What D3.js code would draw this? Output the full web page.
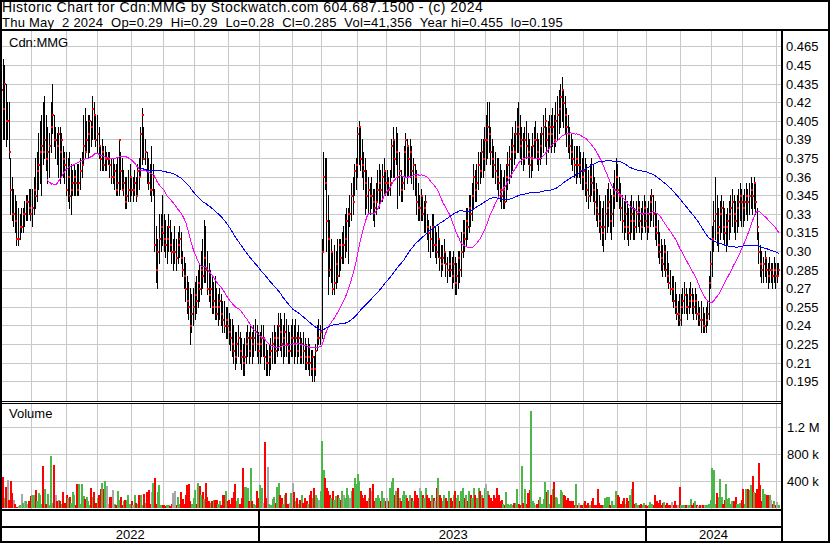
<!DOCTYPE html>
<html>
<head>
<meta charset="utf-8">
<script src="https://cdn.jsdelivr.net/npm/d3@7"></script>
<style>
body { margin: 0; background: #fff; }
svg { display: block; }
text { font-family: "Liberation Sans", Arial, sans-serif; fill: #000; }
</style>
</head>
<body>
<svg id="chart"></svg>
<script>
// TSX holidays in the window (no trading)
const holidays = ["2022-05-23","2022-07-01","2022-08-01","2022-09-05","2022-10-10","2022-12-26","2022-12-27",
    "2023-01-02","2023-02-20","2023-04-07","2023-05-22","2023-07-03","2023-08-07","2023-09-04","2023-10-09",
    "2023-12-25","2023-12-26","2024-01-01","2024-02-19","2024-03-29"];

// daily bars, May 3 2022 .. May 2 2024 (one line per month)
const highs = [
.45,.455,.45,.435,.42,.42,.375,.36,.35,.345,.34,.335,.33,.335,.335,.34,.345,.345,.35,.35,
.35,.36,.375,.38,.395,.405,.41,.42,.425,.41,.40,.395,.42,.435,.41,.40,.395,.40,.40,.395,.385,.38,
.38,.375,.38,.37,.365,.37,.365,.37,.37,.375,.38,.41,.415,.405,.41,.41,.405,.425,.42,.41,
.41,.40,.385,.39,.385,.385,.38,.38,.38,.375,.375,.37,.37,.375,.39,.38,.375,.365,.36,.36,.365,.37,
.36,.36,.365,.36,.37,.375,.40,.415,.40,.39,.38,.375,.37,.385,.37,.35,.32,.31,.33,.33,.345,
.33,.325,.32,.33,.325,.315,.31,.32,.31,.315,.32,.315,.30,.295,.29,.28,.275,.27,.265,.27,
.275,.28,.285,.29,.30,.31,.325,.32,.30,.29,.285,.28,.275,.28,.27,.265,.27,.265,.26,.26,.255,.255,
.25,.245,.245,.24,.235,.235,.24,.235,.23,.225,.23,.235,.24,.235,.24,.235,.24,.245,.24,.235,
.235,.24,.24,.23,.225,.22,.225,.23,.235,.24,.235,.24,.25,.25,.245,.24,.25,.245,.24,.235,.24,
.245,.24,.245,.235,.24,.235,.23,.235,.23,.225,.23,.225,.22,.22,.215,.225,.24,.245,.24,
.31,.38,.375,.375,.345,.325,.31,.30,.305,.30,.31,.31,.31,.315,.32,.33,.335,.335,.345,.355,.36,.37,.375,
.40,.405,.40,.39,.38,.375,.365,.36,.355,.36,.35,.35,.355,.365,.37,.365,.37,.375,.365,
.365,.36,.365,.39,.40,.39,.40,.395,.38,.365,.36,.385,.395,.39,.385,.39,.385,.375,.37,.365,.355,.345,
.35,.345,.34,.345,.33,.325,.32,.33,.33,.32,.315,.32,.31,.305,.305,.31,.30,.295,.30,.30,.295,.30,
.295,.29,.30,.30,.315,.325,.325,.335,.335,.345,.345,.355,.37,.365,.37,.38,.38,.39,.39,.40,
.41,.42,.42,.40,.39,.385,.38,.375,.375,.37,.365,.36,.365,.37,.38,.385,.39,.40,.395,.405,.415,.42,
.41,.40,.395,.40,.405,.395,.39,.385,.395,.40,.405,.395,.39,.395,.40,.41,.415,.40,.405,.41,
.41,.415,.41,.42,.425,.43,.435,.44,.43,.425,.415,.41,.40,.395,.39,.385,.385,.385,.385,.38,.375,
.38,.375,.37,.365,.37,.375,.37,.36,.355,.35,.345,.34,.335,.34,.345,.35,.355,.35,.345,.355,.365,.375,
.37,.36,.355,.345,.34,.345,.34,.335,.34,.345,.34,.335,.34,.345,.34,.335,.34,.345,.34,
.335,.34,.345,.35,.345,.34,.33,.325,.315,.31,.305,.31,.305,.30,.29,.285,.28,.28,.275,.265,.26,.265,
.265,.27,.275,.27,.265,.27,.275,.27,.265,.27,.265,.26,.255,.26,.255,.25,.255,.26,.28,.30,
.32,.34,.36,.345,.335,.34,.345,.34,.335,.33,.335,.34,.345,.35,.345,.34,.345,.35,.355,.35,
.345,.35,.355,.35,.355,.36,.355,.36,.355,.335,.315,.305,.30,.295,.30,.295,.29,.295,.29,.29,.295,.29,
.29,.29
];
const lows = [
.395,.39,.39,.385,.39,.375,.33,.325,.32,.315,.305,.305,.31,.315,.315,.32,.325,.325,.33,.325,
.32,.33,.335,.34,.35,.355,.345,.37,.375,.365,.355,.36,.38,.395,.385,.375,.37,.36,.355,.36,.36,.355,
.345,.34,.335,.33,.345,.345,.345,.345,.345,.35,.36,.37,.375,.38,.375,.38,.385,.39,.39,.385,
.38,.375,.365,.365,.365,.365,.365,.37,.36,.355,.355,.35,.345,.345,.345,.35,.35,.345,.335,.335,.34,.34,
.345,.34,.345,.34,.345,.35,.36,.37,.375,.37,.355,.35,.345,.34,.345,.30,.275,.27,.29,.30,.305,
.30,.295,.29,.30,.30,.29,.285,.29,.285,.29,.295,.29,.28,.27,.26,.25,.245,.225,.235,.24,
.245,.25,.255,.26,.265,.27,.275,.275,.265,.26,.255,.25,.25,.245,.245,.24,.245,.24,.235,.235,.23,.23,
.225,.22,.215,.21,.205,.21,.215,.21,.205,.20,.20,.21,.215,.21,.215,.21,.215,.22,.215,.21,
.21,.215,.215,.205,.20,.20,.20,.205,.21,.21,.21,.215,.22,.22,.215,.21,.215,.215,.21,.21,.215,
.215,.21,.215,.21,.215,.21,.21,.21,.205,.205,.205,.20,.20,.195,.195,.20,.22,.225,.225,
.23,.30,.35,.30,.265,.28,.275,.265,.265,.27,.275,.28,.285,.29,.29,.295,.30,.29,.32,.325,.33,.345,.35,
.36,.37,.365,.36,.35,.33,.335,.33,.33,.335,.325,.32,.33,.34,.335,.34,.34,.345,.345,
.345,.345,.345,.36,.36,.36,.37,.335,.345,.34,.34,.35,.36,.355,.36,.36,.355,.35,.345,.33,.325,.325,
.325,.325,.315,.315,.31,.30,.295,.30,.30,.295,.29,.295,.285,.28,.285,.29,.28,.275,.28,.28,.27,.275,
.265,.265,.27,.275,.28,.295,.30,.305,.31,.315,.32,.325,.335,.34,.34,.35,.355,.36,.36,.365,
.37,.375,.38,.37,.36,.36,.355,.35,.345,.34,.335,.335,.335,.34,.35,.355,.36,.365,.37,.375,.38,.38,
.375,.37,.365,.37,.375,.37,.36,.36,.365,.375,.375,.37,.365,.37,.375,.38,.385,.37,.38,.385,
.38,.385,.38,.385,.39,.395,.40,.405,.40,.395,.385,.38,.375,.37,.365,.36,.355,.36,.36,.355,.35,
.35,.345,.34,.335,.34,.345,.34,.33,.325,.32,.315,.31,.305,.30,.31,.315,.32,.315,.31,.32,.335,.34,
.34,.335,.325,.315,.31,.315,.31,.305,.31,.315,.31,.31,.315,.32,.315,.31,.315,.32,.315,
.31,.315,.32,.325,.32,.31,.305,.295,.29,.285,.28,.285,.28,.275,.27,.265,.26,.255,.25,.245,.24,.24,
.24,.25,.25,.25,.245,.25,.255,.25,.245,.25,.245,.24,.24,.235,.235,.235,.235,.24,.245,.27,
.28,.30,.31,.305,.30,.31,.315,.31,.305,.30,.305,.31,.315,.32,.315,.31,.315,.32,.325,.32,
.32,.325,.33,.325,.33,.335,.33,.335,.33,.31,.29,.28,.275,.275,.28,.275,.27,.275,.275,.27,.275,.27,
.275,.28
];
const closes = [
.43,.415,.435,.405,.405,.38,.35,.33,.33,.325,.31,.31,.32,.32,.33,.33,.34,.34,.335,.33,
.335,.35,.345,.365,.37,.38,.385,.38,.39,.375,.38,.385,.40,.41,.39,.39,.385,.395,.38,.39,.375,.37,
.35,.36,.345,.35,.355,.36,.355,.35,.355,.365,.37,.385,.38,.39,.395,.405,.40,.415,.41,.39,
.395,.385,.375,.38,.37,.375,.375,.375,.37,.36,.36,.365,.35,.355,.39,.365,.35,.355,.34,.345,.35,.36,
.35,.35,.355,.345,.365,.36,.395,.41,.375,.38,.365,.355,.35,.35,.36,.305,.285,.30,.31,.32,.315,
.31,.305,.31,.32,.305,.30,.30,.30,.295,.305,.31,.295,.285,.28,.27,.26,.255,.24,.25,.255,
.265,.26,.275,.27,.285,.28,.295,.285,.27,.265,.27,.255,.26,.255,.25,.255,.26,.25,.245,.24,.245,.24,
.235,.23,.225,.22,.215,.225,.23,.22,.215,.21,.215,.225,.23,.22,.23,.225,.23,.235,.225,.22,
.225,.23,.23,.215,.21,.21,.215,.22,.225,.23,.22,.23,.24,.235,.225,.23,.235,.225,.22,.22,.23,
.23,.225,.23,.22,.23,.215,.225,.22,.215,.21,.215,.21,.205,.215,.205,.22,.23,.23,.235,
.30,.36,.355,.325,.31,.285,.30,.27,.275,.29,.28,.305,.295,.305,.305,.31,.325,.33,.33,.345,.34,.365,.37,
.395,.40,.375,.37,.365,.355,.345,.35,.345,.345,.34,.335,.34,.35,.355,.35,.36,.365,.355,
.355,.35,.355,.385,.39,.375,.38,.36,.365,.35,.355,.38,.39,.385,.375,.38,.365,.37,.36,.34,.335,.335,
.345,.33,.335,.34,.32,.315,.31,.32,.305,.305,.30,.31,.295,.29,.295,.30,.29,.285,.29,.285,.28,.29,
.275,.28,.295,.285,.30,.315,.31,.325,.32,.335,.33,.345,.36,.35,.355,.37,.365,.38,.375,.39,
.39,.40,.395,.38,.375,.37,.365,.36,.355,.35,.345,.35,.34,.36,.37,.375,.38,.385,.38,.395,.40,.395,
.385,.39,.375,.39,.385,.38,.37,.375,.385,.39,.39,.38,.375,.385,.395,.40,.405,.39,.395,.40,
.395,.40,.39,.405,.41,.415,.425,.43,.42,.41,.40,.395,.385,.38,.375,.37,.375,.37,.37,.365,.36,
.365,.355,.35,.345,.36,.355,.35,.34,.335,.33,.325,.32,.315,.32,.33,.335,.34,.325,.33,.345,.35,.36,
.35,.345,.335,.325,.32,.33,.32,.315,.325,.33,.325,.32,.33,.335,.325,.32,.33,.335,.325,
.32,.33,.34,.345,.33,.32,.315,.305,.30,.295,.29,.30,.285,.28,.275,.27,.27,.26,.255,.25,.25,.245,
.255,.26,.265,.255,.255,.26,.265,.26,.255,.26,.25,.25,.245,.245,.24,.24,.245,.25,.275,.29,
.31,.325,.33,.315,.32,.33,.335,.32,.315,.32,.325,.33,.335,.34,.33,.325,.335,.34,.345,.34,
.335,.34,.345,.34,.345,.35,.345,.355,.34,.32,.30,.29,.285,.29,.295,.285,.28,.285,.285,.28,.285,.28,
.28,.285
];
// volume in thousands of shares
const volumes = [
250,465,150,320,415,120,400,230,120,60,20,30,40,210,80,100,110,60,110,180,
190,200,270,100,220,190,60,630,290,60,210,40,770,80,640,190,110,120,100,60,245,80,
190,150,160,80,245,190,40,360,350,60,350,180,130,170,100,50,300,170,245,80,
150,200,280,370,280,400,330,60,170,170,270,60,40,260,120,170,50,100,120,120,200,60,
100,50,200,80,60,200,200,40,210,70,245,270,60,245,370,450,60,245,345,50,50,
40,30,50,40,30,60,220,260,40,160,60,245,140,60,200,345,350,100,60,150,
270,60,370,330,200,245,130,370,170,100,70,100,120,120,125,60,100,40,200,200,250,100,
120,60,150,245,360,100,150,60,150,600,320,310,300,100,600,100,60,40,250,150,
345,300,80,980,150,610,60,40,140,170,80,320,370,200,150,60,200,220,60,80,220,
370,245,100,150,60,120,200,80,150,100,60,200,250,150,300,200,150,120,250,
1000,560,450,300,250,200,150,250,120,180,200,150,120,250,200,150,300,200,150,250,300,450,350,
500,400,250,200,150,200,100,150,300,250,350,100,150,200,150,100,250,150,100,
150,100,300,380,450,200,250,300,150,100,200,250,200,150,100,200,150,100,250,200,150,300,
250,200,150,300,200,150,100,200,150,100,300,450,200,150,100,200,150,100,250,150,100,200,
250,150,200,100,250,300,150,200,100,250,200,150,300,200,150,300,250,200,150,300,
350,250,200,150,100,200,150,300,200,100,120,60,40,245,60,50,60,40,80,70,290,60,
40,630,80,290,60,220,270,1450,100,80,50,60,120,170,60,130,380,245,270,60,
200,290,380,170,150,60,270,245,200,180,120,150,110,100,100,50,355,40,75,50,40,
75,100,40,75,40,110,145,50,40,290,75,40,50,40,155,170,165,40,100,40,50,260,
200,170,60,100,155,60,145,100,200,280,380,60,75,40,50,60,40,75,40,
25,40,90,60,40,190,100,75,120,40,75,90,40,75,50,40,90,40,100,50,40,310,
40,50,40,50,40,40,140,40,75,100,40,25,40,40,50,40,50,40,60,120,
600,570,60,220,170,430,170,60,120,350,140,150,60,110,110,160,60,60,75,120,
280,60,290,280,270,345,480,245,220,290,670,340,110,290,215,200,200,190,120,60,100,50,
90,41.356
];

const priceLabels = ["0.195","0.21","0.225","0.24","0.255","0.27","0.285","0.30","0.315","0.33",
    "0.345","0.36","0.375","0.39","0.405","0.42","0.435","0.45","0.465"];
const volTicks = [400, 800, 1200];
const volLabels = ["400 k", "800 k", "1.2 M"];
const maPeriods = [30, 90];
const maColors = ["#ff00ff", "#0000ff"];

const titleLine1 = "Historic Chart for Cdn:MMG by Stockwatch.com 604.687.1500 - (c) 2024";
const titleLine2 = "Thu May  2 2024  Op=0.29  Hi=0.29  Lo=0.28  Cl=0.285  Vol=41,356  Year hi=0.455  lo=0.195";

const width = 830;
const height = 543;
const plotRight = 781;

const fmtDay = d3.utcFormat("%Y-%m-%d");
const dates = d3.utcDays(new Date(Date.UTC(2022, 4, 3)), new Date(Date.UTC(2024, 4, 3)))
    .filter(d => d.getUTCDay() % 6 !== 0 && !holidays.includes(fmtDay(d)));

const n = closes.length;
const x = d3.scaleLinear().domain([0, n]).range([1, 780]);
const y = d3.scaleLinear().domain([0.195, 0.465]).range([381.7, 46.9]);
const yv = d3.scaleLinear().domain([0, 1600]).range([508, 400.5]);

const svg = d3.select('#chart')
    .attr('width', width).attr('height', height)
    .attr('shape-rendering', 'crispEdges');

// month starts and year starts (in bar index)
const monthStarts = [];
const yearStarts = [0];
dates.forEach((d, i) => {
    if (i > 0 && d.getUTCMonth() !== dates[i - 1].getUTCMonth()) {
        monthStarts.push(i);
        if (d.getUTCFullYear() !== dates[i - 1].getUTCFullYear()) yearStarts.push(i);
    }
});

const grid = svg.append('g').attr('stroke', '#c8c8c8').attr('stroke-width', 1);

// price grid
priceLabels.forEach(l => {
    const yy = Math.floor(y(+l)) + 0.5;
    grid.append('line').attr('x1', 2).attr('x2', plotRight).attr('y1', yy).attr('y2', yy);
});
// volume grid
volTicks.forEach(v => {
    const yy = Math.floor(yv(v)) + 0.5;
    grid.append('line').attr('x1', 2).attr('x2', plotRight).attr('y1', yy).attr('y2', yy);
});
// month grid in both panels
monthStarts.forEach(i => {
    const xx = Math.floor(x(i)) + 0.5;
    grid.append('line').attr('x1', xx).attr('x2', xx).attr('y1', 31).attr('y2', 401);
    grid.append('line').attr('x1', xx).attr('x2', xx).attr('y1', 404).attr('y2', 509);
});

svg.append('clipPath').attr('id', 'main-clip')
    .append('rect').attr('x', 2).attr('y', 31).attr('width', plotRight - 2).attr('height', 370);

const main = svg.append('g').attr('clip-path', 'url(#main-clip)');

// high-low bars
main.append('g').selectAll('rect')
    .data(closes)
    .join('rect')
    .attr('x', (d, i) => Math.round(x(i)))
    .attr('width', 1)
    .attr('y', (d, i) => Math.floor(y(highs[i])))
    .attr('height', (d, i) => Math.max(1, Math.ceil(y(lows[i])) - Math.floor(y(highs[i]))))
    .attr('fill', '#000');

// close ticks
main.append('g').selectAll('rect')
    .data(closes)
    .join('rect')
    .attr('x', (d, i) => Math.round(x(i)))
    .attr('width', 2)
    .attr('y', d => Math.round(y(d)) - 1)
    .attr('height', 2)
    .attr('fill', '#ff0000');

// moving averages
function movingAverage(values, period) {
    return values.map((v, i) => i < period - 1 ? null : d3.mean(values.slice(i - period + 1, i + 1)));
}

maPeriods.forEach((p, k) => {
    const ma = movingAverage(closes, p);
    const line = d3.line()
        .defined(d => d != null)
        .x((d, i) => x(i) + 1)
        .y(d => y(d));
    main.append('path')
        .datum(ma)
        .attr('d', line)
        .attr('fill', 'none')
        .attr('stroke', maColors[k])
        .attr('stroke-width', 1);
});

// volume bars
svg.append('g').selectAll('rect')
    .data(volumes)
    .join('rect')
    .attr('x', (d, i) => Math.floor(x(i)))
    .attr('width', 2)
    .attr('y', d => Math.round(yv(d)))
    .attr('height', d => Math.max(1, 508 - Math.round(yv(d))))
    .attr('fill', (d, i) => {
        if (i === 0 || closes[i] === closes[i - 1]) return '#a8a8a8';
        return closes[i] > closes[i - 1] ? '#4db84a' : '#ff0000';
    });

// frame lines
const frame = svg.append('g').attr('fill', '#000');
frame.append('rect').attr('x', 0).attr('y', 0).attr('width', width).attr('height', 2);
frame.append('rect').attr('x', 0).attr('y', height - 2).attr('width', width).attr('height', 2);
frame.append('rect').attr('x', 0).attr('y', 0).attr('width', 2).attr('height', height);
frame.append('rect').attr('x', width - 2).attr('y', 0).attr('width', 2).attr('height', height);
frame.append('rect').attr('x', 0).attr('y', 29).attr('width', width).attr('height', 2);
frame.append('rect').attr('x', plotRight).attr('y', 29).attr('width', 2).attr('height', height - 29);
frame.append('rect').attr('x', 0).attr('y', 401).attr('width', plotRight).attr('height', 1);
frame.append('rect').attr('x', 0).attr('y', 403).attr('width', plotRight).attr('height', 1);
frame.append('rect').attr('x', 0).attr('y', 509).attr('width', plotRight).attr('height', 2);
frame.append('rect').attr('x', 0).attr('y', 526).attr('width', plotRight).attr('height', 2);
yearStarts.slice(1).forEach(i => {
    frame.append('rect').attr('x', Math.floor(x(i)) - 1).attr('y', 509).attr('width', 2).attr('height', height - 509);
});

// texts (the original bitmap font runs a little wider, hence the letter spacing)
svg.append('text').attr('x', 2).attr('y', 12)
    .style('font-size', '14px').style('letter-spacing', '0.45px').style('white-space', 'pre')
    .text(titleLine1);
svg.append('text').attr('x', 2).attr('y', 26.5)
    .style('font-size', '13px').style('letter-spacing', '0.25px').style('white-space', 'pre')
    .text(titleLine2);
svg.append('text').attr('x', 9).attr('y', 46.5).style('font-size', '13px').text('Cdn:MMG');
svg.append('text').attr('x', 9).attr('y', 418).style('font-size', '13px').text('Volume');

svg.append('g').selectAll('text')
    .data(priceLabels)
    .join('text')
    .attr('x', 786)
    .attr('y', d => Math.floor(y(+d)) + 5)
    .style('font-size', '13px')
    .text(d => d);

svg.append('g').selectAll('text')
    .data(volTicks)
    .join('text')
    .attr('x', 787)
    .attr('y', d => Math.floor(yv(d)) + 5)
    .style('font-size', '13px')
    .text((d, i) => volLabels[i]);

const yearBounds = yearStarts.concat([n]);
svg.append('g').selectAll('text')
    .data(yearStarts)
    .join('text')
    .attr('x', (d, k) => (x(d) + x(yearBounds[k + 1])) / 2)
    .attr('y', 539)
    .attr('text-anchor', 'middle')
    .style('font-size', '13px')
    .text(d => dates[d].getUTCFullYear());
</script>
</body>
</html>
